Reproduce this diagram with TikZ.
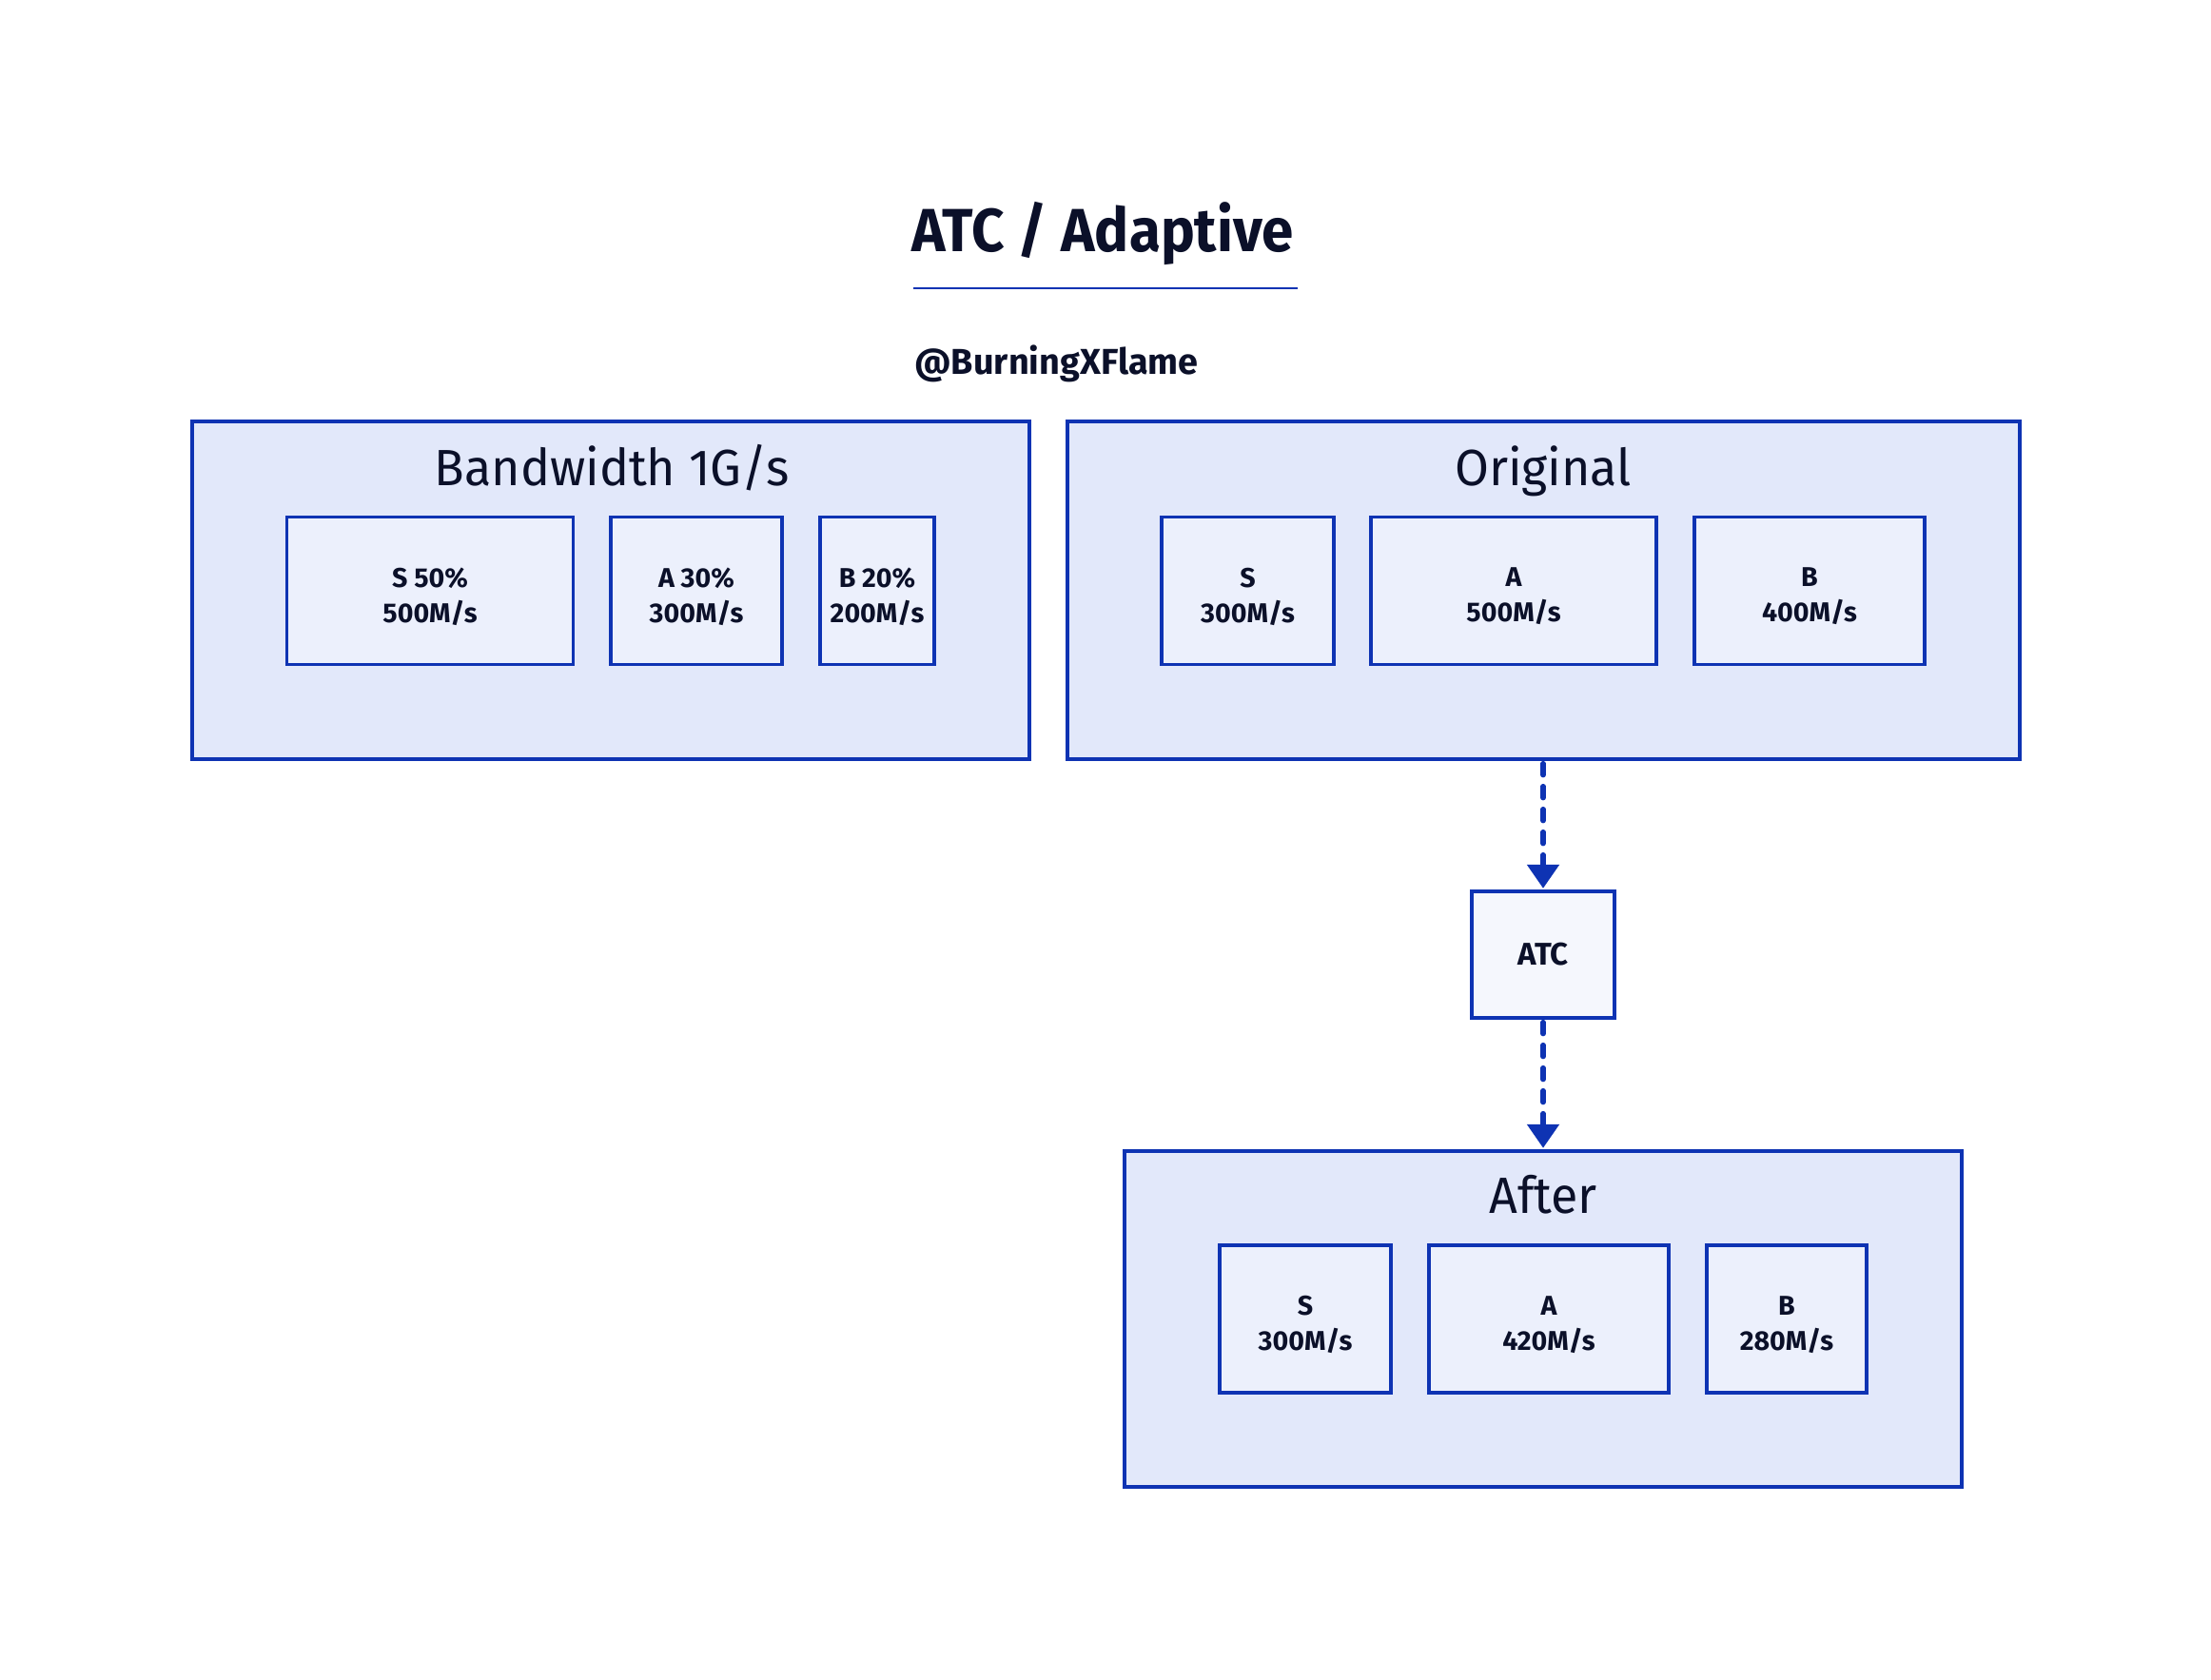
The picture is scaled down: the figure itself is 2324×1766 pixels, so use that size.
\documentclass[tikz,border=0pt]{standalone}
\usepackage{fontspec}
\setmainfont{Fira Sans}
\newfontfamily\titlefont{Fira Sans}[FakeStretch=0.94]
\newfontfamily\groupfont{Fira Sans}[FakeStretch=0.97]
\usetikzlibrary{arrows.meta}
\definecolor{edgeblue}{HTML}{0E33B3}
\definecolor{outerfill}{HTML}{E2E8FA}
\definecolor{innerfill}{HTML}{ECF0FC}
\definecolor{atcfill}{HTML}{F5F7FD}
\definecolor{inkc}{HTML}{0B1029}
\tikzset{
  groupbox/.style={draw=edgeblue, fill=outerfill, line width=1.65pt, inner sep=0pt},
  itembox/.style={draw=edgeblue, fill=innerfill, line width=1.6pt, inner sep=0pt},
  itemtext/.style={align=center, text=inkc, inner sep=0pt, yshift=-3pt,
    font=\fontsize{14.3}{18.5}\selectfont\bfseries},
  atcbox/.style={draw=edgeblue, fill=atcfill, line width=1.6pt, inner sep=0pt,
    text=inkc, font=\fontsize{16.5}{19}\selectfont\bfseries},
  grouptitle/.style={anchor=base, text=inkc, inner sep=0pt, font=\groupfont\fontsize{26.8}{30}\selectfont},
  flowarrow/.style={draw=edgeblue, line width=2.7pt, line cap=round, dash pattern=on 6pt off 6pt,
    -{Triangle[width=16.5pt,length=12.5pt,line cap=butt]}, shorten >=0.8pt}
}
\begin{document}
\begin{tikzpicture}[x=0.5pt,y=-0.5pt]
\useasboundingbox (0,0) rectangle (2324,1766);
\fill[white] (0,0) rectangle (2324,1766);

% title
\node[anchor=base, text=inkc, inner sep=0pt, font=\titlefont\fontsize{32}{36}\selectfont\bfseries] (title) at (1159,264) {ATC / Adaptive};
\coordinate (ulL) at (960,302.5);
\coordinate (ulR) at (1364,302.5);
\draw[edgeblue, line width=1pt] (ulL) -- (ulR);
\node[anchor=base west, text=inkc, inner sep=0pt, font=\fontsize{18.9}{22}\selectfont\bfseries] (author) at (961,393) {@BurningXFlame};

% Bandwidth group
\node[groupbox, minimum width=440pt, minimum height=177.5pt] (bw) at (642,620.5) {};
\node[grouptitle] (bwt) at (643,510) {Bandwidth 1G/s};
\node[itembox, minimum width=150.5pt, minimum height=77.3pt,
  label={[name=s1t, itemtext]center:S 50\%\\500M/s}] (s1) at (452,621) {};
\node[itembox, minimum width=90pt, minimum height=77.3pt,
  label={[name=a1t, itemtext]center:A 30\%\\300M/s}] (a1) at (732,621) {};
\node[itembox, minimum width=60pt, minimum height=77.3pt,
  label={[name=b1t, itemtext]center:B 20\%\\200M/s}] (b1) at (922,621) {};

% Original group
\node[groupbox, minimum width=500.5pt, minimum height=177.5pt] (orig) at (1622.5,620.5) {};
\node[grouptitle] (origt) at (1622,510) {Original};
\node[itembox, minimum width=90.5pt, minimum height=77.3pt,
  label={[name=s2t, itemtext]center:S\\300M/s}] (s2) at (1311.5,621) {};
\node[itembox, minimum width=150pt, minimum height=77.3pt,
  label={[name=a2t, itemtext]center:A\\500M/s}] (a2) at (1591,621) {};
\node[itembox, minimum width=121pt, minimum height=77.3pt,
  label={[name=b2t, itemtext]center:B\\400M/s}] (b2) at (1902,621) {};

% ATC
\node[atcbox, minimum width=75pt, minimum height=66.5pt] (atc) at (1622,1003.5) {ATC};

% After group
\node[groupbox, minimum width=440pt, minimum height=176.5pt] (after) at (1622,1386.5) {};
\node[grouptitle] (aftert) at (1622,1275) {After};
\node[itembox, minimum width=90pt, minimum height=77.5pt,
  label={[name=s3t, itemtext]center:S\\300M/s}] (s3) at (1372,1386.5) {};
\node[itembox, minimum width=126pt, minimum height=77.5pt,
  label={[name=a3t, itemtext]center:A\\420M/s}] (a3) at (1628,1386.5) {};
\node[itembox, minimum width=84pt, minimum height=77.5pt,
  label={[name=b3t, itemtext]center:B\\280M/s}] (b3) at (1878,1386.5) {};

% connectors
\draw[flowarrow] ([yshift=-1.5pt]orig.south -| atc.north) -- (atc.north);
\draw[flowarrow] ([yshift=-1.5pt]atc.south) -- (atc.south |- after.north);
\end{tikzpicture}
\end{document}
